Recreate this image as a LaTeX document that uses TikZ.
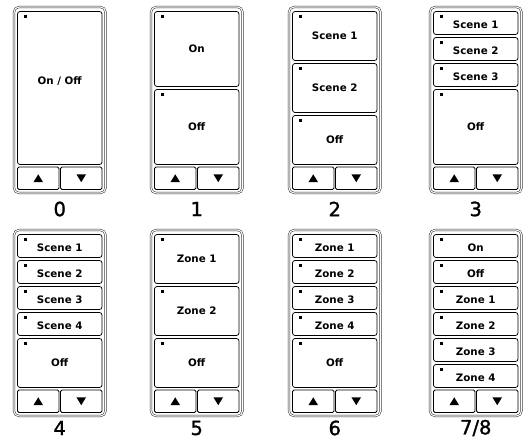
\documentclass[tikz,border=0pt]{standalone}
\usepackage{fontspec}
\newfontfamily\btnfont{DejaVu Sans}
\newfontfamily\lblfont{DejaVu Sans}[FakeBold=1.3]
\tikzset{
  frame/.style={draw=black!85, line width=0.5pt, double=white, double distance=1.1pt, rounded corners=5pt},
  btn/.style={draw=black, line width=0.75pt, rounded corners=2.5pt, fill=white},
  rock/.style={draw=black, line width=0.75pt, rounded corners=1.5pt, fill=white},
  led/.style={fill=black},
  btntxt/.style={font=\btnfont\bfseries\fontsize{10.3}{12}\selectfont, inner sep=0pt},
  padlbl/.style={font=\lblfont\fontsize{19.5}{23}\selectfont, inner sep=0pt},
  arrowtri/.style={fill=black}
}
% #1 x, #2 y (top of frame), #3 label, #4 label offset
\newcommand\padframe[4]{%
  \draw[frame] (#1,#2) rectangle ++(91.5,186);
  \draw[rock] (#1+3.5,#2+160) rectangle (#1+45,#2+182.5);
  \draw[rock] (#1+46.5,#2+160) rectangle (#1+88,#2+182.5);
  \fill[arrowtri] (#1+24.25-4.8,#2+175.2) -- (#1+24.25+4.8,#2+175.2) -- (#1+24.25,#2+167.3) -- cycle;
  \fill[arrowtri] (#1+67.25-4.8,#2+167.3) -- (#1+67.25+4.8,#2+167.3) -- (#1+67.25,#2+175.2) -- cycle;
  \node[padlbl] at (#1+45.75,#2+#4) {#3};
}
% #1 x, #2 y, #3 start slot, #4 slots, #5 text offset, #6 text
\newcommand\padbtn[6]{%
  \pgfmathsetmacro\bt{#2+4.5+26*#3}%
  \pgfmathsetmacro\bb{#2+4.5+26*#3+26*#4-3}%
  \draw[btn] (#1+3.5,\bt) rectangle (#1+88,\bb);
  \fill[led] (#1+9.5,\bt+4) rectangle ++(3,3);
  \node[btntxt] at (#1+45.75,{(\bt+\bb)/2+#5}) {#6};
}
\begin{document}
\begin{tikzpicture}[x=1pt,y=-1pt]
\useasboundingbox (0,0) rectangle (523,441);
% Panel 0
\padframe{14}{7}{0}{202}
\padbtn{14}{7}{0}{6}{-7}{On / Off}
% Panel 1
\padframe{151}{7}{1}{202}
\padbtn{151}{7}{0}{3}{0}{On}
\padbtn{151}{7}{3}{3}{0}{Off}
% Panel 2
\padframe{289}{7}{2}{202}
\padbtn{289}{7}{0}{2}{0}{Scene 1}
\padbtn{289}{7}{2}{2}{0}{Scene 2}
\padbtn{289}{7}{4}{2}{0}{Off}
% Panel 3
\padframe{430}{7}{3}{202}
\padbtn{430}{7}{0}{1}{1.5}{Scene 1}
\padbtn{430}{7}{1}{1}{1.5}{Scene 2}
\padbtn{430}{7}{2}{1}{1.5}{Scene 3}
\padbtn{430}{7}{3}{3}{0}{Off}
% Panel 4
\padframe{14}{230}{4}{198}
\padbtn{14}{230}{0}{1}{1.5}{Scene 1}
\padbtn{14}{230}{1}{1}{1.5}{Scene 2}
\padbtn{14}{230}{2}{1}{1.5}{Scene 3}
\padbtn{14}{230}{3}{1}{1.5}{Scene 4}
\padbtn{14}{230}{4}{2}{0}{Off}
% Panel 5
\padframe{151}{230}{5}{198}
\padbtn{151}{230}{0}{2}{0}{Zone 1}
\padbtn{151}{230}{2}{2}{0}{Zone 2}
\padbtn{151}{230}{4}{2}{0}{Off}
% Panel 6
\padframe{289}{230}{6}{198}
\padbtn{289}{230}{0}{1}{1.5}{Zone 1}
\padbtn{289}{230}{1}{1}{1.5}{Zone 2}
\padbtn{289}{230}{2}{1}{1.5}{Zone 3}
\padbtn{289}{230}{3}{1}{1.5}{Zone 4}
\padbtn{289}{230}{4}{2}{0}{Off}
% Panel 7/8
\padframe{430}{230}{7/8}{198}
\padbtn{430}{230}{0}{1}{1.5}{On}
\padbtn{430}{230}{1}{1}{1.5}{Off}
\padbtn{430}{230}{2}{1}{1.5}{Zone 1}
\padbtn{430}{230}{3}{1}{1.5}{Zone 2}
\padbtn{430}{230}{4}{1}{1.5}{Zone 3}
\padbtn{430}{230}{5}{1}{1.5}{Zone 4}
\end{tikzpicture}
\end{document}
